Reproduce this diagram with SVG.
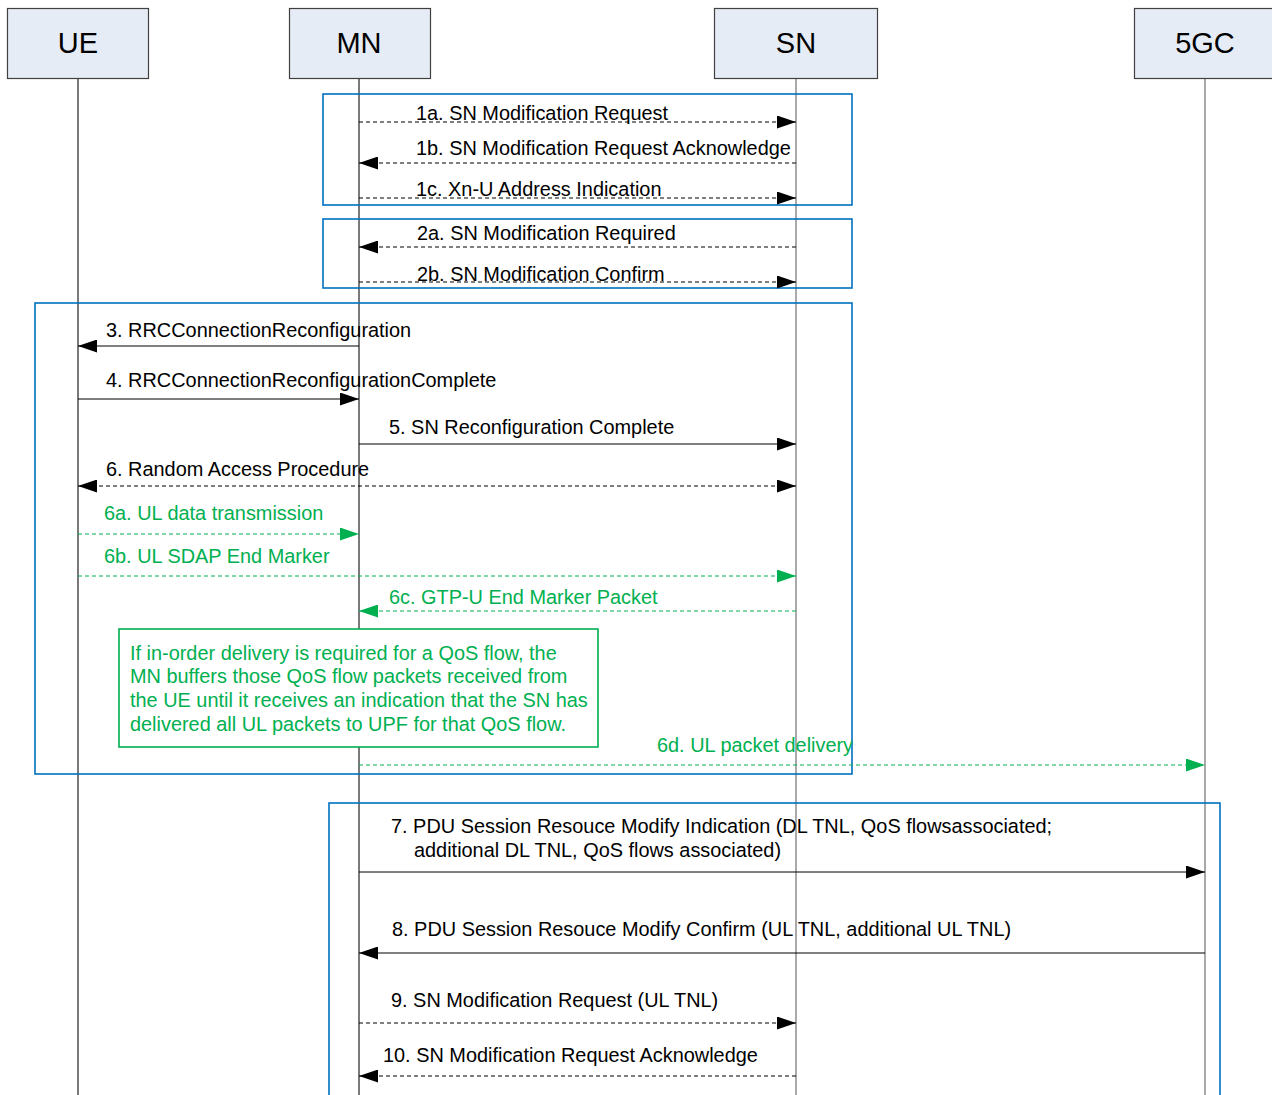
<svg xmlns="http://www.w3.org/2000/svg" width="1272" height="1095" viewBox="0 0 1272 1095">
<defs>
<style>
text{font-family:"Liberation Sans",Arial,sans-serif;font-size:19.9px;fill:#000}
.hdr{font-size:29px;text-anchor:middle}
.g{fill:#00b050}
.box rect{fill:#e6ecf6;stroke:#404040;stroke-width:1.2}
.life{stroke-width:1.2;fill:none}
.frame{fill:none;stroke:#0070c0;stroke-width:1.6}
.msg{stroke:#000;stroke-width:1;fill:none}
.d{stroke-dasharray:4,3}
.gm{stroke:#00b050;stroke-width:1;fill:none;stroke-dasharray:4,3}
</style>
<marker id="ab" markerUnits="userSpaceOnUse" markerWidth="19" markerHeight="13" refX="19" refY="6.5" orient="auto-start-reverse"><path d="M0,0 L19,6.5 L0,13 z" fill="#000"/></marker>
<marker id="ag" markerUnits="userSpaceOnUse" markerWidth="19" markerHeight="13" refX="19" refY="6.5" orient="auto-start-reverse"><path d="M0,0 L19,6.5 L0,13 z" fill="#00b050"/></marker>
</defs>
<rect width="1272" height="1095" fill="#fff"/>

<g id="lifelines">
<line class="life" x1="78" y1="78" x2="78" y2="1095" stroke="#202020"/>
<line class="life" x1="359" y1="78" x2="359" y2="1095" stroke="#202020"/>
<line class="life" x1="796" y1="78" x2="796" y2="1095" stroke="#707070"/>
<line class="life" x1="1205" y1="78" x2="1205" y2="1095" stroke="#707070"/>
</g>

<g id="node-UE" class="box"><rect x="7.5" y="8.5" width="141" height="70"/><text class="hdr" x="78" y="53">UE</text></g>
<g id="node-MN" class="box"><rect x="289.5" y="8.5" width="141" height="70"/><text class="hdr" x="359" y="53">MN</text></g>
<g id="node-SN" class="box"><rect x="714.5" y="8.5" width="163" height="70"/><text class="hdr" x="796" y="53">SN</text></g>
<g id="node-5GC" class="box"><rect x="1134.5" y="8.5" width="140" height="70"/><text class="hdr" x="1205" y="53">5GC</text></g>

<g id="frames">
<rect class="frame" x="323" y="94" width="529" height="111"/>
<rect class="frame" x="323" y="219" width="529" height="69"/>
<rect class="frame" x="35" y="303" width="817" height="471"/>
<rect class="frame" x="329" y="803" width="891" height="300"/>
</g>

<g id="note">
<rect x="119" y="629" width="479" height="118" fill="#fff" stroke="#00b050" stroke-width="1.6"/>
<text class="g" x="130" y="660">If in-order delivery is required for a QoS flow, the</text>
<text class="g" x="130" y="683">MN buffers those QoS flow packets received from</text>
<text class="g" x="130" y="707">the UE until it receives an indication that the SN has</text>
<text class="g" x="130" y="731">delivered all UL packets to UPF for that QoS flow.</text>
</g>

<g id="connectors">
<line class="msg d" x1="359" y1="122" x2="796" y2="122" marker-end="url(#ab)"/>
<line class="msg d" x1="796" y1="163" x2="359" y2="163" marker-end="url(#ab)"/>
<line class="msg d" x1="359" y1="198" x2="796" y2="198" marker-end="url(#ab)"/>
<line class="msg d" x1="796" y1="247" x2="359" y2="247" marker-end="url(#ab)"/>
<line class="msg d" x1="359" y1="282" x2="796" y2="282" marker-end="url(#ab)"/>
<line class="msg" x1="359" y1="346" x2="78" y2="346" marker-end="url(#ab)"/>
<line class="msg" x1="78" y1="399" x2="359" y2="399" marker-end="url(#ab)"/>
<line class="msg" x1="359" y1="444" x2="796" y2="444" marker-end="url(#ab)"/>
<line class="msg d" x1="78" y1="486" x2="796" y2="486" marker-start="url(#ab)" marker-end="url(#ab)"/>
<line class="gm" x1="78" y1="534" x2="359" y2="534" marker-end="url(#ag)"/>
<line class="gm" x1="78" y1="576" x2="796" y2="576" marker-end="url(#ag)"/>
<line class="gm" x1="796" y1="611" x2="359" y2="611" marker-end="url(#ag)"/>
<line class="gm" x1="359" y1="765" x2="1205" y2="765" marker-end="url(#ag)"/>
<line class="msg" x1="359" y1="872" x2="1205" y2="872" marker-end="url(#ab)"/>
<line class="msg" x1="1205" y1="953" x2="359" y2="953" marker-end="url(#ab)"/>
<line class="msg d" x1="359" y1="1023" x2="796" y2="1023" marker-end="url(#ab)"/>
<line class="msg d" x1="796" y1="1076" x2="359" y2="1076" marker-end="url(#ab)"/>
</g>

<g id="labels">
<text x="416" y="120">1a. SN Modification Request</text>
<text x="416" y="155">1b. SN Modification Request Acknowledge</text>
<text x="416" y="196">1c. Xn-U Address Indication</text>
<text x="417" y="240">2a. SN Modification Required</text>
<text x="417" y="281">2b. SN Modification Confirm</text>
<text x="106" y="337">3. RRCConnectionReconfiguration</text>
<text x="106" y="387">4. RRCConnectionReconfigurationComplete</text>
<text x="389" y="434">5. SN Reconfiguration Complete</text>
<text x="106" y="476">6. Random Access Procedure</text>
<text class="g" x="104" y="520">6a. UL data transmission</text>
<text class="g" x="104" y="563">6b. UL SDAP End Marker</text>
<text class="g" x="389" y="604">6c. GTP-U End Marker Packet</text>
<text class="g" x="657" y="752">6d. UL packet delivery</text>
<text x="391" y="833">7. PDU Session Resouce Modify Indication (DL TNL, QoS flowsassociated;</text>
<text x="414" y="857">additional DL TNL, QoS flows associated)</text>
<text x="392" y="936">8. PDU Session Resouce Modify Confirm (UL TNL, additional UL TNL)</text>
<text x="391" y="1007">9. SN Modification Request (UL TNL)</text>
<text x="383" y="1062">10. SN Modification Request Acknowledge</text>
</g>
</svg>
